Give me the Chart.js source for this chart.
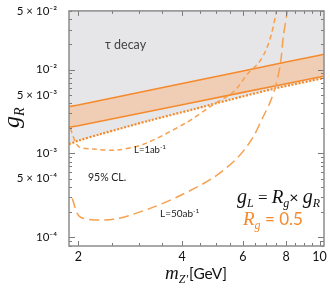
<!DOCTYPE html>
<html>
<head>
<meta charset="utf-8">
<script src="https://cdn.jsdelivr.net/npm/chart.js@4"></script>
<style>
  html, body { margin: 0; padding: 0; background: #fff; }
  #wrap { width: 330px; height: 288px; }
</style>
</head>
<body>
<div id="wrap"><canvas id="c" width="330" height="288"></canvas></div>
<script>
// axis ticks
const xTickVals = [2, 4, 6, 8, 10];
const yTickVals = [1e-4, 5e-4, 1e-3, 5e-3, 1e-2, 5e-2];
const yTickLabels = ['10⁻⁴', '5 × 10⁻⁴', '10⁻³', '5 × 10⁻³', '10⁻²', '5 × 10⁻²'];

// orange band (g_L = 0.5 g_R), upper and lower edges
const bandX = [1.88, 2, 4, 6, 8, 10, 10.3];
const bandUpper = [3.62e-3, 3.79e-3, 6.83e-3, 9.63e-3, 1.23e-2, 1.48e-2, 1.52e-2];
const bandLower = [2.05e-3, 2.14e-3, 3.81e-3, 5.35e-3, 6.79e-3, 8.16e-3, 8.39e-3];

// tau decay bound (dotted, gray above)
const tauX = [1.88, 2.0, 2.32, 3.23, 4.3, 5.51, 7.5, 10.33];
const tauY = [1.29e-3, 1.42e-3, 1.70e-3, 2.48e-3, 3.35e-3, 4.38e-3, 6.0e-3, 7.94e-3];

// 95% CL reach, L = 1 ab^-1
const l1X = [1.896, 2.0, 2.21, 2.59, 3.09, 4.08, 4.92, 5.63, 6.22, 6.65, 6.97, 7.25, 7.50, 7.65];
const l1Y = [2.0e-3, 1.22e-3, 1.13e-3, 1.10e-3, 1.29e-3, 2.29e-3, 3.82e-3, 5.43e-3, 9.09e-3, 1.19e-2, 1.65e-2, 2.62e-2, 5.0e-2, 8.2e-2];

// 95% CL reach, L = 50 ab^-1
const l50X = [1.92, 2.03, 2.53, 3.23, 3.95, 4.92, 5.78, 6.39, 6.87, 7.20, 7.45, 7.70, 7.86, 8.07, 8.2];
const l50Y = [2.92e-4, 1.74e-4, 1.65e-4, 2.22e-4, 3.16e-4, 5.15e-4, 8.86e-4, 1.52e-3, 2.76e-3, 4.15e-3, 6.23e-3, 1.16e-2, 2.55e-2, 5.0e-2, 8e-2];

const orange = '#f58a2c';
const orangeDash = '#f7a04e';

function pts(xs, ys) {
  return xs.map((x, i) => ({ x: x, y: ys[i] }));
}

// draw a run of text pieces with different fonts / vertical offsets
function drawRich(ctx, x, y, parts, color) {
  ctx.save();
  ctx.fillStyle = color;
  ctx.textBaseline = 'alphabetic';
  ctx.textAlign = 'left';
  let cx = x;
  parts.forEach(p => {
    ctx.font = p.f;
    ctx.fillText(p.t, cx, y + (p.dy || 0));
    cx += ctx.measureText(p.t).width + (p.gap || 0);
  });
  ctx.restore();
}

const serifI = (s) => 'italic ' + s + 'px "Liberation Serif"';
const sans = (s) => s + 'px Lato';

const decorPlugin = {
  id: 'decor',
  afterDatasetsDraw(chart) {
    const ctx = chart.ctx;
    const a = chart.chartArea;
    const xs = chart.scales.x, ys = chart.scales.y;
    ctx.save();
    // inward ticks
    ctx.strokeStyle = '#7a7a7a';
    ctx.lineWidth = 1;
    ctx.beginPath();
    for (let k = -5; k <= -1; k++) {
      for (let m = 1; m <= 9; m++) {
        const v = m * Math.pow(10, k);
        if (v < ys.min || v > ys.max) continue;
        const py = Math.round(ys.getPixelForValue(v)) + 0.5;
        const len = m === 1 ? 6 : 3;
        ctx.moveTo(a.left, py); ctx.lineTo(a.left + len, py);
        ctx.moveTo(a.right, py); ctx.lineTo(a.right - len, py);
      }
    }
    for (let v = 2; v <= 10.01; v += 0.5) {
      const px = Math.round(xs.getPixelForValue(v)) + 0.5;
      const len = xTickVals.indexOf(v) >= 0 ? 5 : 3;
      ctx.moveTo(px, a.bottom); ctx.lineTo(px, a.bottom - len);
      ctx.moveTo(px, a.top); ctx.lineTo(px, a.top + len);
    }
    ctx.stroke();
    // frame
    ctx.strokeStyle = '#8c8c8c';
    ctx.lineWidth = 1.5;
    ctx.strokeRect(a.left, a.top, a.right - a.left, a.bottom - a.top);

    // x tick labels, placed from the x scale
    ctx.fillStyle = '#111';
    ctx.font = sans(12.5);
    ctx.textAlign = 'center';
    ctx.textBaseline = 'middle';
    xTickVals.forEach(v => {
      ctx.fillText(String(v), xs.getPixelForValue(v), a.bottom + 11);
    });
    ctx.restore();

    // labels inside the plot
    drawRich(ctx, 105, 49, [{ t: 'τ decay', f: sans(12.5) }], '#444');
    drawRich(ctx, 134, 153, [{ t: 'L=1ab', f: sans(9.5) }, { t: '-1', f: sans(6.5), dy: -4 }], '#222');
    drawRich(ctx, 88, 181, [{ t: '95% CL.', f: sans(10.5) }], '#222');
    drawRich(ctx, 160, 217, [{ t: 'L=50ab', f: sans(10) }, { t: '-1', f: sans(6.5), dy: -4 }], '#222');
    drawRich(ctx, 237, 203, [
      { t: 'g', f: serifI(20) }, { t: 'L', f: serifI(12), dy: 4 },
      { t: ' = ', f: '17px "Liberation Serif"' },
      { t: 'R', f: serifI(19) }, { t: 'g', f: serifI(12), dy: 4 },
      { t: '× ', f: '16px Lato' },
      { t: 'g', f: serifI(20) }, { t: 'R', f: serifI(12), dy: 4 }
    ], '#111');
    drawRich(ctx, 243, 225, [
      { t: 'R', f: serifI(19) }, { t: 'g', f: serifI(12), dy: 4 },
      { t: ' = 0.5', f: sans(17) }
    ], orange);

    // x axis title
    drawRich(ctx, 165, 279, [
      { t: 'm', f: serifI(19) }, { t: 'Z′', f: serifI(12), dy: 4, gap: 1 },
      { t: '[GeV]', f: sans(15.5) }
    ], '#111');

    // y axis title, rotated
    ctx.save();
    ctx.translate(19, 128);
    ctx.rotate(-Math.PI / 2);
    drawRich(ctx, 0, 0, [{ t: 'g', f: serifI(24) }, { t: 'R', f: serifI(14), dy: 5 }], '#111');
    ctx.restore();
  }
};

new Chart(document.getElementById('c'), {
  type: 'line',
  data: {
    datasets: [
      { // gray excluded region above tau bound
        data: pts(tauX, tauY),
        borderColor: orange, borderWidth: 2.2, borderDash: [2, 1.6],
        backgroundColor: '#e6e5e7', fill: 'end',
        pointRadius: 0, tension: 0.3, order: 10
      },
      {
        data: pts(bandX, bandUpper),
        borderColor: orange, borderWidth: 1.6,
        backgroundColor: '#f0cdb5', fill: '+1',
        pointRadius: 0, tension: 0, order: 5
      },
      {
        data: pts(bandX, bandLower),
        borderColor: orange, borderWidth: 1.6,
        fill: false, pointRadius: 0, tension: 0, order: 4
      },
      {
        data: pts(l1X, l1Y),
        borderColor: orangeDash, borderWidth: 1.5, borderDash: [5, 3.5],
        fill: false, pointRadius: 0, tension: 0.3, order: 1
      },
      {
        data: pts(l50X, l50Y),
        borderColor: orangeDash, borderWidth: 1.5, borderDash: [10, 5],
        fill: false, pointRadius: 0, tension: 0.3, order: 1
      }
    ]
  },
  options: {
    responsive: false,
    animation: false,
    events: [],
    layout: { padding: { top: 8, right: 6, left: 0, bottom: 0 } },
    plugins: { legend: { display: false }, tooltip: { enabled: false } },
    scales: {
      x: {
        type: 'logarithmic', min: 1.88, max: 10.3,
        grid: { display: false }, border: { display: false },
        afterBuildTicks: (s) => { s.ticks = xTickVals.map(v => ({ value: v })); },
        afterFit: (s) => { s.height = 42; },
        ticks: { display: false }
      },
      y: {
        type: 'logarithmic', min: 7.9e-5, max: 5e-2,
        grid: { display: false }, border: { display: false },
        afterBuildTicks: (s) => { s.ticks = yTickVals.map(v => ({ value: v })); },
        afterFit: (s) => { s.width = 69; },
        ticks: {
          autoSkip: false, padding: 4,
          color: '#111', font: { family: 'Lato', size: 11.5 },
          callback: (v, i) => yTickLabels[i]
        }
      }
    }
  },
  plugins: [decorPlugin]
});
</script>
</body>
</html>
